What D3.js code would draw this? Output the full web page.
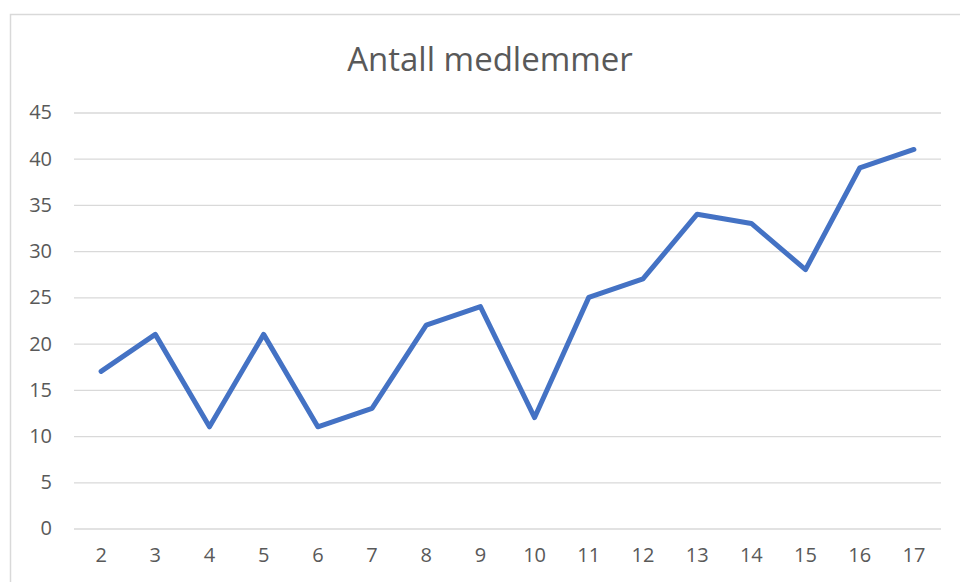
<!DOCTYPE html>
<html>
<head>
<meta charset="utf-8">
<script src="https://cdn.jsdelivr.net/npm/d3@7/dist/d3.min.js"></script>
<style>
  html, body { margin: 0; padding: 0; background: #fff; }
  svg { display: block; font-family: "Open Sans", "Noto Sans", sans-serif; }
</style>
</head>
<body>
<svg id="chart" width="960" height="582"></svg>
<script>
// data
const categories = ['2', '3', '4', '5', '6', '7', '8', '9', '10', '11', '12', '13', '14', '15', '16', '17'];
const members = [17, 21, 11, 21, 11, 13, 22, 24, 12, 25, 27, 34, 33, 28, 39, 41];
const yTicks = [0, 5, 10, 15, 20, 25, 30, 35, 40, 45];
const title = 'Antall medlemmer';

const W = 960, H = 582;
const plot = { left: 74, right: 941, top: 112.5, bottom: 528.5 };
const grey = '#595959';

const svg = d3.select('#chart');

// chart area frame (runs off the right and bottom edge)
svg.append('rect')
  .attr('x', 10.5).attr('y', 14.5).attr('width', 990).attr('height', 620)
  .attr('fill', '#fff').attr('stroke', '#d9d9d9').attr('stroke-width', 1.5);

svg.append('text')
  .attr('x', 490).attr('y', 71).attr('text-anchor', 'middle')
  .attr('font-size', 33).attr('fill', grey)
  .text(title);

const x = d3.scaleBand().domain(categories).range([plot.left, plot.right]);
const y = d3.scaleLinear().domain([0, 45]).range([plot.bottom, plot.top]);

// gridlines + y labels
const yAxis = d3.axisLeft(y).tickValues(yTicks).tickSize(-(plot.right - plot.left)).tickPadding(22);
const gy = svg.append('g').attr('transform', `translate(${plot.left},0)`).call(yAxis)
  .attr('font-family', null).attr('font-size', null);
gy.select('.domain').remove();
gy.selectAll('.tick line').attr('stroke', '#d9d9d9').attr('stroke-width', 1.3);
gy.selectAll('.tick text').attr('fill', grey).attr('font-size', 20);

// x labels
const xAxis = d3.axisBottom(x).tickSize(0).tickPadding(19);
const gx = svg.append('g').attr('transform', `translate(0,${plot.bottom})`).call(xAxis)
  .attr('font-family', null).attr('font-size', null);
gx.select('.domain').remove();
gx.selectAll('.tick text').attr('fill', grey).attr('font-size', 20);

// series
const line = d3.line()
  .x((d, i) => x(categories[i]) + x.bandwidth() / 2)
  .y((d) => y(d));
svg.append('path').datum(members)
  .attr('fill', 'none').attr('stroke', '#4472C4').attr('stroke-width', 5)
  .attr('stroke-linejoin', 'round').attr('stroke-linecap', 'round')
  .attr('d', line);
</script>
</body>
</html>
